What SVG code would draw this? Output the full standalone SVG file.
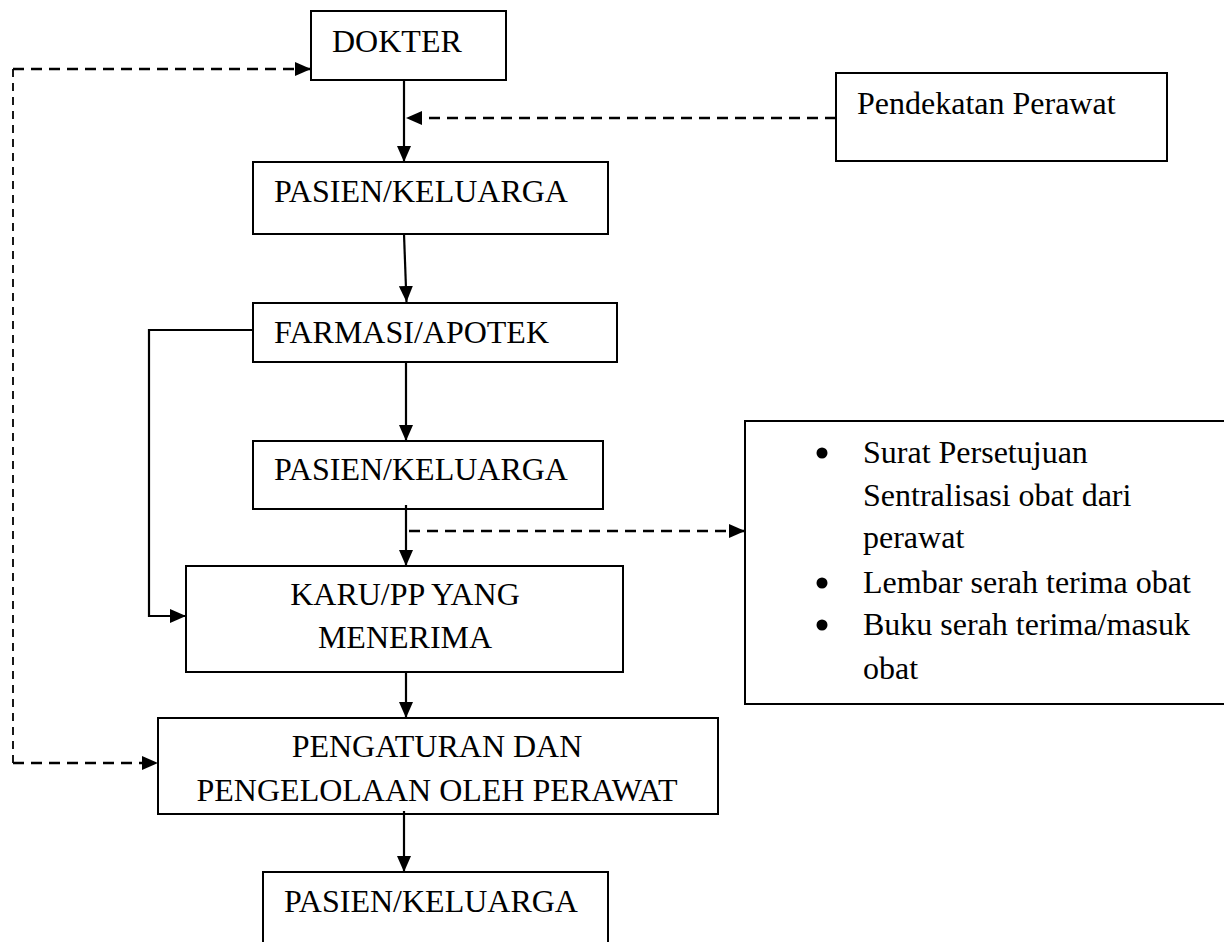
<svg xmlns="http://www.w3.org/2000/svg" width="1224" height="942" viewBox="0 0 1224 942">
<style>
.box{fill:#fff;stroke:#000;stroke-width:2}
.t{font-family:"Liberation Serif","Times New Roman",serif;font-size:32px;fill:#000}
.c{text-anchor:middle}
.ln{fill:none;stroke:#000;stroke-width:2.2}
.dash{fill:none;stroke:#000;stroke-width:2.6;stroke-dasharray:11 7}
.dashv{fill:none;stroke:#000;stroke-width:1.8;stroke-dasharray:8 6}
</style>
<defs>
<marker id="ah" markerUnits="userSpaceOnUse" markerWidth="16" markerHeight="14" viewBox="0 0 16 14" refX="16" refY="7" orient="auto">
<path d="M0,0 L16,7 L0,14 z" fill="#000"/>
</marker>
</defs>
<rect width="1224" height="942" fill="#fff"/>

<g id="dokter"><rect class="box" x="311" y="11" width="195" height="69"/><text class="t" x="332" y="52">DOKTER</text></g>
<g id="pendekatan"><rect class="box" x="836" y="73" width="331" height="88"/><text class="t" x="857" y="114">Pendekatan Perawat</text></g>
<g id="pasien1"><rect class="box" x="253" y="162" width="355" height="72"/><text class="t" x="274" y="202">PASIEN/KELUARGA</text></g>
<g id="farmasi"><rect class="box" x="253" y="303" width="364" height="59"/><text class="t" x="274" y="343">FARMASI/APOTEK</text></g>
<g id="pasien2"><rect class="box" x="253" y="441" width="350" height="68"/><text class="t" x="274" y="480">PASIEN/KELUARGA</text></g>
<g id="karu"><rect class="box" x="186" y="566" width="437" height="106"/><text class="t c" x="405" y="605">KARU/PP YANG</text><text class="t c" x="405" y="648">MENERIMA</text></g>
<g id="pengaturan"><rect class="box" x="158" y="718" width="560" height="96"/><text class="t c" x="437" y="757">PENGATURAN DAN</text><text class="t c" x="437" y="801">PENGELOLAAN OLEH PERAWAT</text></g>
<g id="pasien3"><rect class="box" x="263" y="872" width="345" height="90"/><text class="t" x="284" y="912">PASIEN/KELUARGA</text></g>
<g id="dokumen"><rect class="box" x="745" y="421" width="500" height="283"/>
<circle cx="822" cy="453" r="5.5"/><circle cx="822" cy="583" r="5.5"/><circle cx="822" cy="625" r="5.5"/>
<text class="t" x="863" y="463">Surat Persetujuan</text>
<text class="t" x="863" y="506">Sentralisasi obat dari</text>
<text class="t" x="863" y="548">perawat</text>
<text class="t" x="863" y="593">Lembar serah terima obat</text>
<text class="t" x="863" y="635">Buku serah terima/masuk</text>
<text class="t" x="863" y="679">obat</text>
</g>

<g id="connectors">
<path class="ln" d="M404,80 L404,162" marker-end="url(#ah)"/>
<path class="dash" d="M836,118 L406,118" marker-end="url(#ah)"/>
<path class="ln" d="M404,234 L406.5,302" marker-end="url(#ah)"/>
<path class="ln" d="M253,330 L149,330 L149,616 L186,616" marker-end="url(#ah)"/>
<path class="ln" d="M406,362 L406,441" marker-end="url(#ah)"/>
<path class="ln" d="M406,505 L406,566" marker-end="url(#ah)"/>
<path class="dash" d="M409,531 L745,531" marker-end="url(#ah)"/>
<path class="ln" d="M406,672 L406,718" marker-end="url(#ah)"/>
<path class="ln" d="M404,811 L404,872" marker-end="url(#ah)"/>
<path class="dashv" d="M13,69 L13,763"/>
<path class="dash" d="M13,69 L311,69" marker-end="url(#ah)"/>
<path class="dash" d="M13,763 L158,763" marker-end="url(#ah)"/>
</g>
</svg>
